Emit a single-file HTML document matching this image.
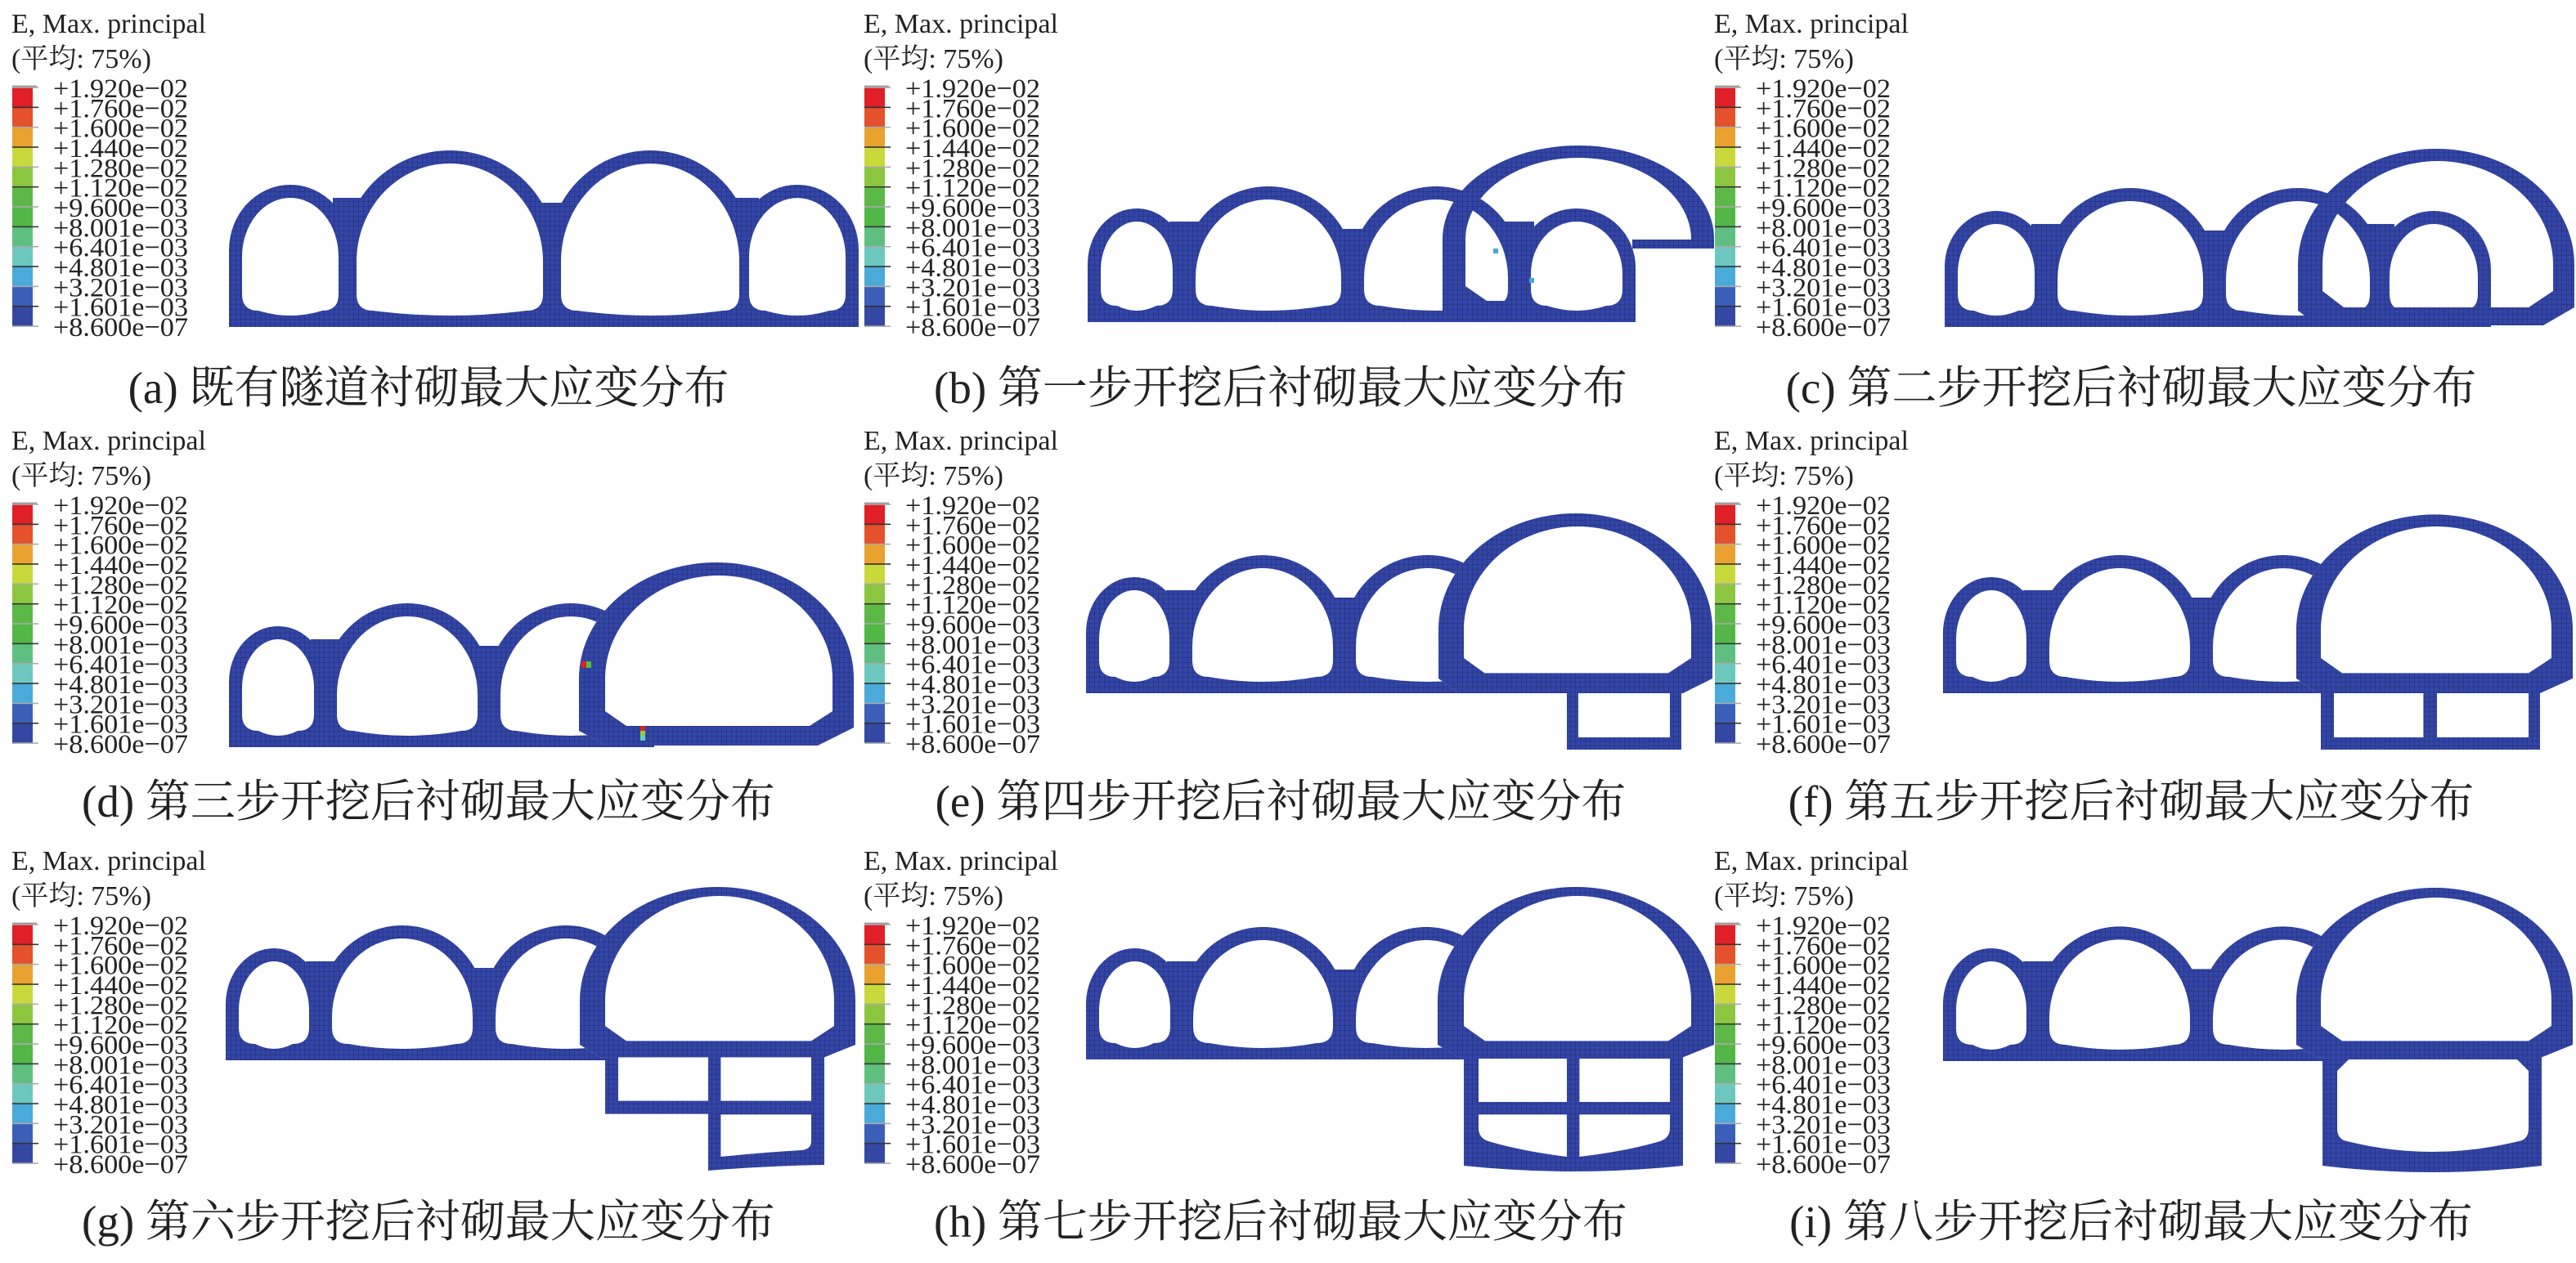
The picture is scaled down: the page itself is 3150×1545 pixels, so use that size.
<!DOCTYPE html>
<html><head><meta charset="utf-8">
<style>
html,body{margin:0;padding:0;background:#fff;}
svg{display:block;}
svg text{font-family:"Liberation Serif","DejaVu Serif","Noto Serif CJK SC",serif;}
</style></head>
<body>
<svg id="s" xmlns="http://www.w3.org/2000/svg" width="3150" height="1545" viewBox="0 0 1575 772.5">
<defs>
<pattern id="m" patternUnits="userSpaceOnUse" width="3" height="3">
<rect width="3" height="3" fill="#3345a6"/>
<path d="M0 0H3M0 0V3" stroke="#1d2768" stroke-width="0.4" fill="none"/>
</pattern>
</defs>
<g id="g"></g>
</svg>
<script>
let h='';
const FF=' font-family="Liberation Serif, DejaVu Serif, Noto Serif CJK SC, serif"';
function P(d,fill,rule){h+='<path d="'+d+'" fill="'+fill+'"'+(rule?' fill-rule="evenodd"':'')+'/>';}
function archD(L,R,T,Ys,B){return 'M'+L+','+B+'L'+L+','+Ys+'A'+((R-L)/2)+','+(Ys-T)+' 0 0 1 '+R+','+Ys+'L'+R+','+B+'Z';}
function holeD(L,R,T,ry,B){const iL=L+8,iR=R-8,iT=T+8,iYs=T+ry+4,iB=B-10,rc=10,mx=(iL+iR)/2;
 return 'M'+iL+','+iYs+'A'+((iR-iL)/2)+','+(iYs-iT)+' 0 0 1 '+iR+','+iYs+'L'+iR+','+(iB-rc)+'Q'+iR+','+iB+' '+(iR-rc)+','+iB+'Q'+mx+','+(iB+6)+' '+(iL+rc)+','+iB+'Q'+iL+','+iB+' '+iL+','+(iB-rc)+'Z';}
function existing(t,B){
 t.forEach(a=>P(archD(a[0],a[1],a[2],a[2]+a[3],B),'url(#m)'));
 for(let k=0;k<t.length-1;k++){const a=t[k],b=t[k+1];const bd=(a[1]+b[0])/2;
  let top=(a[2]===b[2])?a[2]+0.5*a[3]:Math.max(a[2],b[2])+8;
  h+='<rect x="'+(bd-9)+'" y="'+top+'" width="18" height="'+(B-top)+'" fill="url(#m)"/>';}
 t.forEach(a=>P(holeD(a[0],a[1],a[2],a[3],B),'#fff'));
}
function shp(o){return 'M'+o.L+','+o.ly+'L'+o.L+','+o.Ys+'A'+((o.R-o.L)/2)+','+(o.Ys-o.T)+' 0 0 1 '+o.R+','+o.Ys+'L'+o.R+','+o.ry+'L'+o.brx+','+o.B+'L'+o.blx+','+o.B+'Z';}
function newT(o,i,white){if(white)P(shp(o),'#fff');P(shp(o)+shp(i),'url(#m)',true);}
function legend(ox,oy){
 h+='<text x="'+(ox+7)+'" y="'+(oy+20)+'" font-size="17"'+FF+' fill="#222">E, Max. principal</text>';
 h+='<text x="'+(ox+7)+'" y="'+(oy+41.5)+'" font-size="17"'+FF+' fill="#222">(平均: 75%)</text>';
 const c=['#e01f26','#e5512b','#e9a12f','#c9d93b','#8cc63f','#5cb947','#52b746','#5fbf80','#6cc8bf','#4aaad9','#3b5fb9','#3448a3'];
 const y0=oy+53.5,st=12.17;
 h+='<rect x="'+(ox+7.5)+'" y="'+(y0-1.2)+'" width="15" height="1.2" fill="#999"/>';
 c.forEach((col,k)=>{h+='<rect x="'+(ox+7.5)+'" y="'+(y0+k*st)+'" width="12.5" height="'+st+'" fill="'+col+'"/>';});
 for(let k=0;k<=12;k++){h+='<rect x="'+(ox+7.5)+'" y="'+(y0+k*st-0.4)+'" width="16" height="0.8" fill="'+(k%2?'#333':'#aaa')+'"/>';}
 const L=['+1.920e−02','+1.760e−02','+1.600e−02','+1.440e−02','+1.280e−02','+1.120e−02','+9.600e−03','+8.001e−03','+6.401e−03','+4.801e−03','+3.201e−03','+1.601e−03','+8.600e−07'];
 L.forEach((s,k)=>{h+='<text x="'+(ox+32.5)+'" y="'+(oy+59.5+k*st)+'" font-size="16.6" textLength="82.5" lengthAdjust="spacingAndGlyphs"'+FF+' fill="#222">'+s+'</text>';});
}
function cap(x,y,s){h+='<text x="'+x+'" y="'+y+'" font-size="27.5" text-anchor="middle"'+FF+' fill="#222">'+s+'</text>';}

[0,255,512].forEach(oy=>[0,521,1041].forEach(ox=>legend(ox,oy)));

existing([[140,215,113,40],[210,340,92,64],[335,460,92,64],[450,525,113,40]],200);
existing([[665,725,127.5,34],[723,828,114,52],[826,930,114,52],[928,1000,127.5,36]],197);
P('M882,190L882,146A83,57 0 0 1 1048,146L1048,152L998,152L998,146.5L1034,146.5A69,50 0 0 0 896,146.5L896,175L909,184L925,184L925,195L890,195Z','url(#m)');
h+='<rect x="913" y="152" width="3" height="3" fill="#48a8dc"/><rect x="935" y="170" width="3" height="3" fill="#48a8dc"/>';
existing([[1189,1252,129,34],[1250,1355,115,52],[1353,1457,115,52],[1453,1523,129,36]],200);
newT({L:1405,R:1574,T:91,Ys:162,ly:190,B:199,blx:1417,brx:1555,ry:188},{L:1420,R:1561,T:98.5,Ys:162,ly:178,B:188,blx:1433,brx:1546,ry:178},false);
existing([[140,200,383,34],[198,300,369,52],[298,400,369,52]],457);
newT({L:354,R:522,T:344,Ys:415,ly:447,B:456,blx:371,brx:500,ry:445},{L:370,R:509,T:352,Ys:415,ly:435,B:444,blx:383,brx:495,ry:435},true);
h+='<rect x="355.5" y="404.5" width="3" height="4" fill="#e02020"/><rect x="358.5" y="404.5" width="3" height="4" fill="#4cc040"/>';
h+='<rect x="391.5" y="444" width="3" height="3" fill="#e02020"/><rect x="391.5" y="447" width="3" height="3" fill="#8cd040"/><rect x="391.5" y="450" width="3" height="3" fill="#60d0b0"/>';
existing([[664,723,353,34],[721,823,339.5,52],[821,925,339.5,52]],424);
newT({L:879.5,R:1047,T:314,Ys:385,ly:415,B:424,blx:892,brx:1029,ry:415},{L:895,R:1034,T:322,Ys:385,ly:402.5,B:411.7,blx:907.7,brx:1020,ry:402.5},true);
P('M958,420H1028V458.5H958Z','url(#m)');P('M965,424H1021V451H965Z','#fff');
existing([[1188,1247,353,34],[1245,1347,339.5,52],[1345,1447,339.5,52]],424);
newT({L:1404,R:1573,T:314.7,Ys:385,ly:415,B:424,blx:1417,brx:1553,ry:415},{L:1419,R:1560,T:322,Ys:385,ly:402.5,B:411.7,blx:1432,brx:1546,ry:402.5},true);
P('M1419,420H1553V458.5H1419Z','url(#m)');P('M1427,424H1481.7V451H1427Z','#fff');P('M1490,424H1546V451H1490Z','#fff');
existing([[138,197,580,34],[195,297,566,52],[295,397,566,52]],648.5);
newT({L:354.5,R:523,T:542.5,Ys:612,ly:639,B:646.7,blx:367,brx:504,ry:639},{L:370,R:510,T:548,Ys:612,ly:627.5,B:636.7,blx:383,brx:496,ry:627.5},true);
P('M370,640H504V712.5Q470,713 433,716V681.3H370Z','url(#m)');
P('M378,646.7H433V673.3H378Z','#fff');P('M440.7,646.7H496V673.3H440.7Z','#fff');
P('M440.7,681.7H496V698Q496,703 490,703.5Q465,705 440.7,707.5Z','#fff');
existing([[664,723.5,580,34],[721.5,823,567,52],[821,923,567,52]],648);
newT({L:879,R:1048,T:542.5,Ys:612,ly:639,B:646.7,blx:892,brx:1029,ry:639},{L:895,R:1034,T:548,Ys:612,ly:627.5,B:636.7,blx:908,brx:1020,ry:627.5},true);
P('M895,640H1029V713Q962,720 895,713Z','url(#m)');
P('M904,647.5H958V674H904Z','#fff');P('M965.7,647.5H1021V674H965.7Z','#fff');
P('M904,681.7H958V707.5Q930,704 910,698Q904,696 904,690Z','#fff');
P('M965.7,681.7H1021V690Q1021,696 1015,698Q995,704 965.7,707.5Z','#fff');
existing([[1188,1247,580,34],[1245,1347,566.7,52],[1345,1447,566.7,52]],649);
newT({L:1404,R:1573,T:543,Ys:612,ly:639,B:646.7,blx:1417,brx:1554,ry:639},{L:1419,R:1560,T:549,Ys:612,ly:627.5,B:636.7,blx:1432,brx:1546,ry:627.5},true);
P('M1420,640H1554V713Q1487,721 1420,713Z','url(#m)');
P('M1436,648H1539L1546,655V690Q1546,697 1540,698Q1487,711 1435,698Q1429,697 1429,690V655Z','#fff');

cap(262,246.5,'(a) 既有隧道衬砌最大应变分布');
cap(783,246.5,'(b) 第一步开挖后衬砌最大应变分布');
cap(1303,246.5,'(c) 第二步开挖后衬砌最大应变分布');
cap(262,499.5,'(d) 第三步开挖后衬砌最大应变分布');
cap(783,499.5,'(e) 第四步开挖后衬砌最大应变分布');
cap(1303,499.5,'(f) 第五步开挖后衬砌最大应变分布');
cap(262,756.5,'(g) 第六步开挖后衬砌最大应变分布');
cap(783,756.5,'(h) 第七步开挖后衬砌最大应变分布');
cap(1303,756.5,'(i) 第八步开挖后衬砌最大应变分布');

document.getElementById('g').innerHTML=h;
</script>
</body></html>
